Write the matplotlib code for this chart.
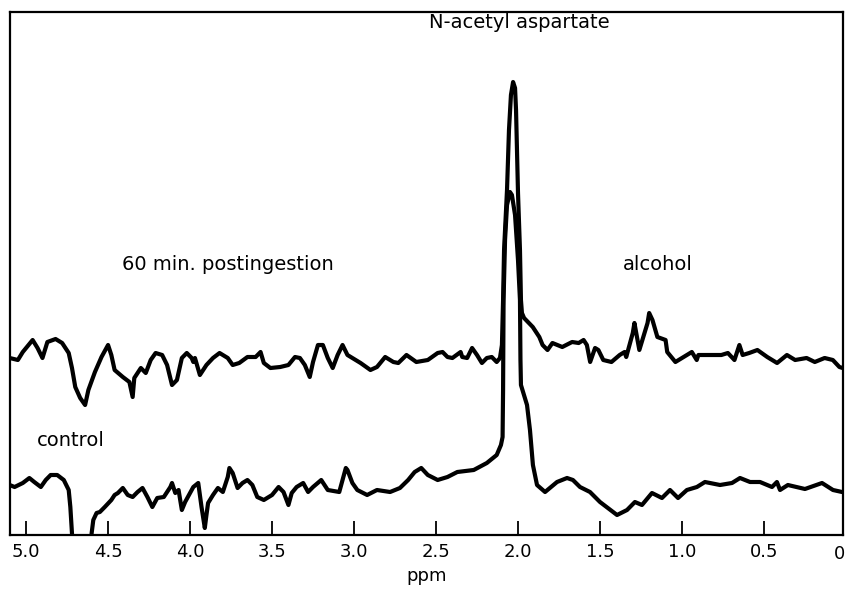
import matplotlib
matplotlib.use("Agg")
import matplotlib.pyplot as plt
import matplotlib.transforms as mtransforms

# chemical shift (ppm) and intensity (arbitrary units)
alc_ppm = [5.10, 5.05, 5.02, 4.96, 4.93, 4.90, 4.87, 4.82, 4.78, 4.74, 4.72, 4.70, 4.67, 4.64,
           4.62, 4.58, 4.54, 4.50, 4.48, 4.46, 4.41, 4.37, 4.35, 4.34, 4.30, 4.27, 4.24, 4.21,
           4.17, 4.14, 4.11, 4.08, 4.05, 4.02, 3.99, 3.98, 3.97, 3.94, 3.90, 3.86, 3.82, 3.77,
           3.74, 3.70, 3.65, 3.60, 3.57, 3.55, 3.51, 3.45, 3.40, 3.36, 3.33, 3.30, 3.27, 3.25,
           3.22, 3.19, 3.16, 3.13, 3.10, 3.07, 3.04, 3.01, 2.96, 2.90, 2.86, 2.81, 2.76, 2.73,
           2.68, 2.62, 2.55, 2.49, 2.46, 2.43, 2.40, 2.35, 2.34, 2.31, 2.28, 2.25, 2.22, 2.19,
           2.16, 2.13, 2.110, 2.098, 2.091, 2.085, 2.067, 2.055, 2.043, 2.030, 2.018, 2.012,
           2.006, 2.000, 1.988, 1.982, 1.976, 1.963, 1.91, 1.87, 1.85, 1.82, 1.79, 1.73, 1.67,
           1.63, 1.60, 1.58, 1.56, 1.53, 1.51, 1.48, 1.43, 1.38, 1.35, 1.34, 1.30, 1.29, 1.26,
           1.21, 1.20, 1.18, 1.15, 1.10, 1.09, 1.04, 0.99, 0.94, 0.91, 0.90, 0.85, 0.76, 0.72,
           0.68, 0.65, 0.63, 0.59, 0.54, 0.48, 0.42, 0.36, 0.31, 0.24, 0.19, 0.13, 0.08, 0.04,
           0.02]
alc_int = [177, 175, 183, 195, 187, 177, 193, 196, 192, 182, 167, 148, 137, 130,
           145, 163, 178, 190, 180, 165, 158, 153, 138, 157, 167, 162, 175, 182,
           180, 170, 150, 155, 177, 182, 177, 173, 177, 160, 170, 177, 182, 177,
           170, 172, 178, 178, 183, 172, 167, 168, 170, 178, 177, 170, 158, 173,
           190, 190, 177, 167, 180, 190, 180, 177, 172, 165, 168, 178, 173, 172,
           180, 173, 175, 182, 183, 178, 177, 183, 178, 177, 187, 180, 172, 177,
           178, 173, 177, 190, 235, 285, 345, 405,
           440, 453, 447, 425,
           385, 342, 285, 235, 222, 217, 208, 198, 190, 185, 192, 188, 193,
           192, 195, 190, 173, 187, 185, 175, 173, 180, 183, 178, 202, 212, 185,
           212, 222, 215, 198, 195, 183, 173, 178, 183, 175, 180, 180, 180, 182,
           175, 190, 180, 182, 185, 178, 172, 180, 175, 177, 173, 177, 175, 168,
           167]

ctl_ppm = [5.10, 5.07, 5.02, 4.98, 4.95, 4.91, 4.88, 4.85, 4.81, 4.77, 4.74, 4.73, 4.72, 4.71,
           4.61, 4.60, 4.59, 4.57, 4.55, 4.52, 4.48, 4.46, 4.44, 4.41, 4.38, 4.35, 4.32, 4.29,
           4.26, 4.23, 4.20, 4.16, 4.12, 4.11, 4.09, 4.07, 4.05, 4.03, 4.00, 3.98, 3.95, 3.93,
           3.91, 3.90, 3.89, 3.86, 3.83, 3.80, 3.77, 3.76, 3.74, 3.71, 3.68, 3.65, 3.62, 3.59,
           3.55, 3.50, 3.46, 3.43, 3.40, 3.38, 3.35, 3.31, 3.28, 3.25, 3.20, 3.16, 3.09, 3.05,
           3.04, 3.01, 2.98, 2.92, 2.86, 2.78, 2.72, 2.67, 2.63, 2.59, 2.55, 2.49, 2.43, 2.37,
           2.27, 2.19, 2.13, 2.104, 2.094, 2.091, 2.088, 2.079, 2.067, 2.049, 2.037, 2.018,
           2.000, 1.988, 1.985, 1.982, 1.945, 1.927, 1.909, 1.884, 1.835, 1.762, 1.701, 1.665,
           1.622, 1.561, 1.500, 1.396, 1.335, 1.287, 1.244, 1.183, 1.122, 1.073, 1.024, 0.970,
           0.909, 0.860, 0.768, 0.695, 0.646, 0.585, 0.524, 0.451, 0.421, 0.402, 0.354, 0.250,
           0.146, 0.079, 0.024]
ctl_int = [50, 48, 52, 57, 53, 48, 55, 60, 60, 55, 45, 28, 2, -25,
           -25, 2, 15, 22, 23, 28, 35, 40, 42, 47, 40, 38, 43, 47,
           38, 28, 37, 38, 48, 52, 42, 45, 25, 33, 42, 48, 52, 28,
           7, 20, 32, 40, 47, 43, 58, 67, 62, 47, 52, 55, 50, 38,
           35, 40, 48, 43, 30, 42, 48, 52, 43, 48, 55, 45, 43, 67,
           65, 52, 45, 40, 45, 43, 47, 55, 63, 67, 60, 55, 58, 63,
           65, 72, 80, 90, 98, 145, 235, 295, 330, 343, 340, 320,
           275, 235, 175, 150, 130, 105, 70, 50, 43, 53, 57, 55,
           48, 43, 33, 20, 25, 33, 30, 42, 37, 45, 37, 45,
           48, 53, 50, 52, 57, 53, 53, 48, 53, 45, 50, 46,
           52, 45, 43]

ticks = [5.0, 4.5, 4.0, 3.5, 3.0, 2.5, 2.0, 1.5, 1.0, 0.5]
tick_labels = ["5.0", "4.5", "4.0", "3.5", "3.0", "2.5", "2.0", "1.5", "1.0", "0.5"]

fig = plt.figure(figsize=(8.46, 5.90), dpi=100)
ax = fig.add_axes([10 / 846, 55 / 590, 833 / 846, 523 / 590])

style = dict(color="black", lw=3.0, solid_joinstyle="round", solid_capstyle="round")
ax.plot(alc_ppm, alc_int, **style)
ax.plot(ctl_ppm, ctl_int, **style)

ax.set_xlim(5.098, 0.018)
ax.set_ylim(0, 523)
ax.set_xticks(ticks)
ax.set_xticklabels(tick_labels)
ax.set_yticks([])
ax.tick_params(axis="x", direction="in", length=10, width=1.3, labelsize=13, pad=6)
for s in ax.spines.values():
    s.set_linewidth(1.6)

# the "0" tick label sits right at the edge of the frame
trans = mtransforms.blended_transform_factory(fig.transFigure, ax.transAxes)
ax.text(0.999, -0.02, "0", transform=trans, ha="right", va="top",
        fontsize=13, clip_on=False)

ax.set_xlabel("ppm", fontsize=13, labelpad=4)

ax.text(1.99, 513, "N-acetyl aspartate", ha="center", va="center", fontsize=14)
ax.text(3.77, 270, "60 min. postingestion", ha="center", va="center", fontsize=14)
ax.text(1.15, 270, "alcohol", ha="center", va="center", fontsize=14)
ax.text(4.73, 95, "control", ha="center", va="center", fontsize=14)

fig.savefig("out.png", dpi=100)
